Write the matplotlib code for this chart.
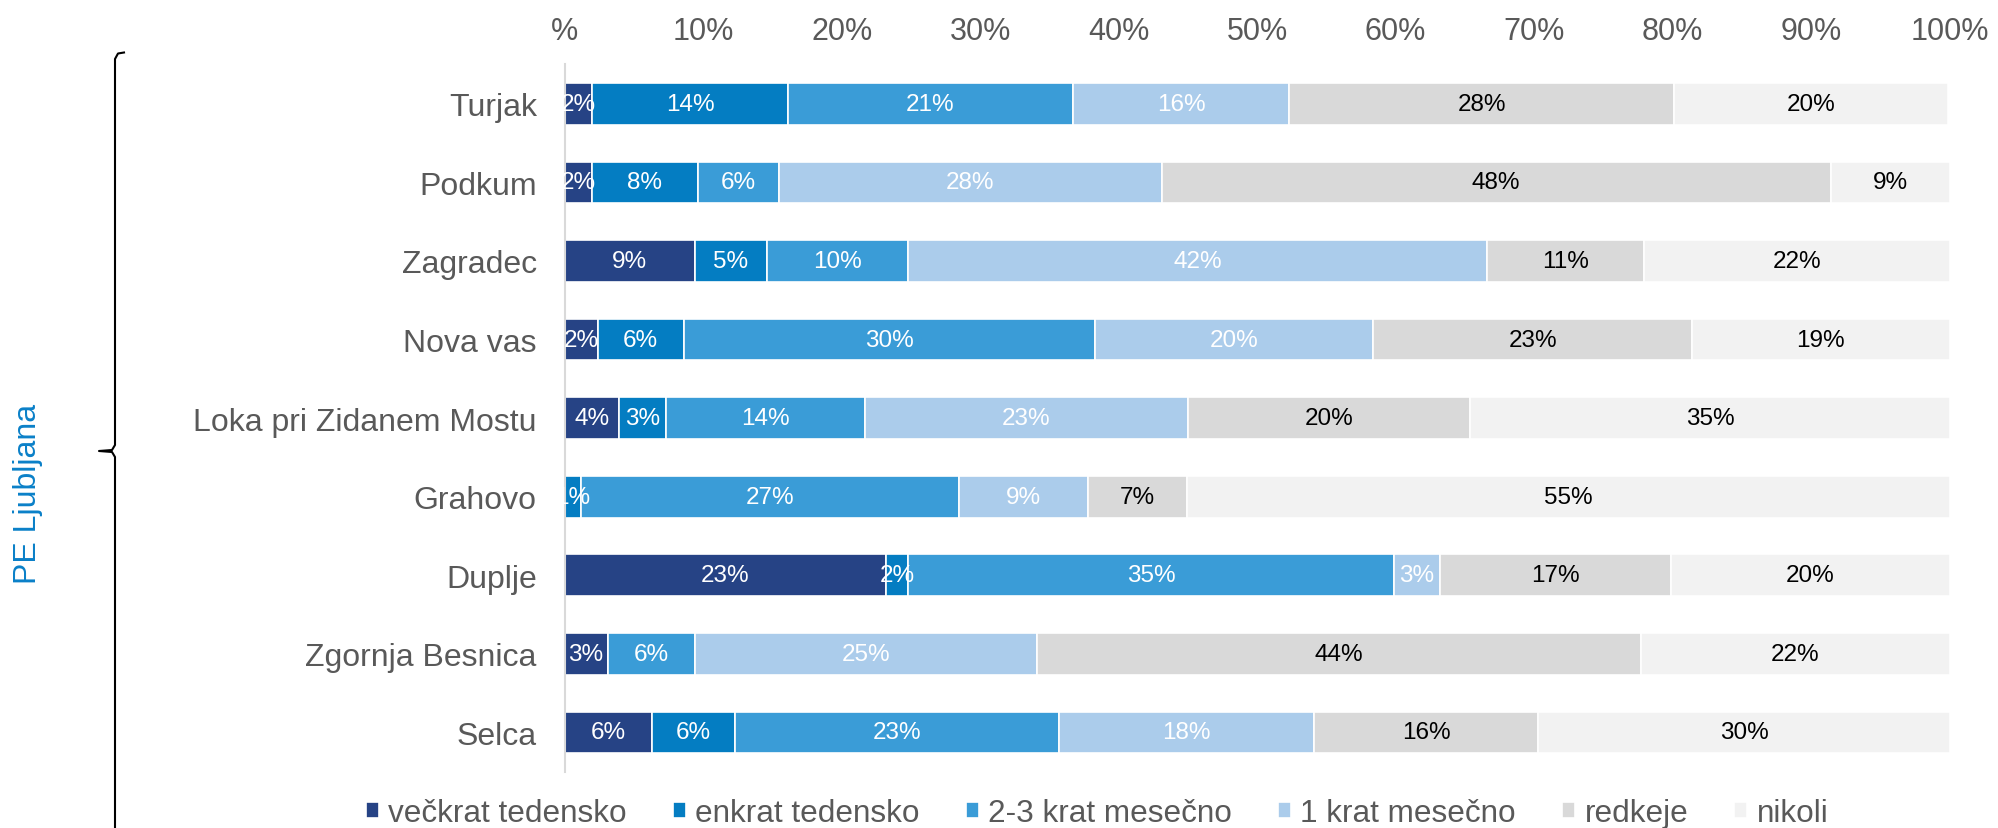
import matplotlib
matplotlib.use("Agg")
import matplotlib.pyplot as plt
from matplotlib.lines import Line2D
import numpy as np

plt.rcParams['font.family'] = ['Liberation Sans', 'DejaVu Sans']

# kraji od zgoraj navzdol
places = ["Turjak", "Podkum", "Zagradec", "Nova vas", "Loka pri Zidanem Mostu",
          "Grahovo", "Duplje", "Zgornja Besnica", "Selca"]
series = ["večkrat tedensko", "enkrat tedensko", "2-3 krat mesečno",
          "1 krat mesečno", "redkeje", "nikoli"]

# deleži v %, brani s slike
veckrat_tedensko = [2.0, 2.0, 9.4, 2.4, 3.9, 0.0, 23.2, 3.1, 6.3]
enkrat_tedensko  = [14.1, 7.6, 5.2, 6.2, 3.4, 1.2, 1.6, 0.0, 6.0]
krat_2_3_mesecno = [20.6, 5.9, 10.2, 29.7, 14.4, 27.3, 35.1, 6.3, 23.4]
krat_1_mesecno   = [15.6, 27.6, 41.8, 20.1, 23.3, 9.3, 3.3, 24.7, 18.4]
redkeje          = [27.8, 48.3, 11.3, 23.0, 20.4, 7.1, 16.7, 43.6, 16.2]
nikoli           = [19.8, 8.6, 22.1, 18.6, 34.6, 55.1, 20.1, 22.3, 29.7]

xticks = [0, 10, 20, 30, 40, 50, 60, 70, 80, 90, 100]
xticklabels = ["%", "10%", "20%", "30%", "40%", "50%", "60%", "70%", "80%", "90%", "100%"]

colors = ["#264385", "#047DC2", "#3A9CD7", "#ABCCEB", "#D9D9D9", "#F2F2F2"]
text_colors = ["white", "white", "white", "white", "black", "black"]

data = [veckrat_tedensko, enkrat_tedensko, krat_2_3_mesecno, krat_1_mesecno, redkeje, nikoli]

fig = plt.figure(figsize=(19.98, 8.29), dpi=100)
ax = fig.add_axes([0.2826, 0.0678, 0.6932, 0.8532])

y = np.arange(len(places))
left = np.zeros(len(places))
for vals, name, col, tcol in zip(data, series, colors, text_colors):
    vals = np.array(vals)
    ax.barh(y, vals, left=left, height=0.53, color=col, edgecolor="white",
            linewidth=1.2, label=name)
    for yi, v, l in zip(y, vals, left):
        if v > 0:
            ax.text(l + v / 2, yi, f"{v:.0f}%", ha="center", va="center",
                    color=tcol, fontsize=17.5)
    left += vals

ax.set_xlim(0, 100)
ax.set_ylim(len(places) - 0.5, -0.5)
ax.set_yticks(y)
ax.set_yticklabels(places, fontsize=23, color="#595959")
ax.set_xticks(xticks)
ax.set_xticklabels(xticklabels, fontsize=22, color="#595959")
ax.xaxis.tick_top()
ax.tick_params(axis="both", length=0)
ax.tick_params(axis="x", pad=13)
ax.tick_params(axis="y", pad=20)
for s in ["top", "right", "bottom"]:
    ax.spines[s].set_visible(False)
ax.spines["left"].set_color("#D9D9D9")
ax.spines["left"].set_linewidth(1.5)

leg = fig.legend(loc="center", bbox_to_anchor=(1097 / 1998, 1 - 814 / 829), ncol=6,
                 frameon=False, fontsize=22.7, handlelength=0.42, handleheight=0.42,
                 handletextpad=0.3, columnspacing=1.45)
for t in leg.get_texts():
    t.set_color("#595959")

# oklepaj s skupino
W, H = 1998, 829
pts_x = [124, 118, 115, 115, 112, 99, 112, 115, 115]
pts_y = [53.5, 54.5, 60, 446, 451, 452, 453, 458, 840]
fig.add_artist(Line2D([p / W for p in pts_x], [1 - p / H for p in pts_y],
                      color="black", linewidth=1.5, transform=fig.transFigure))
fig.text(28 / W, 1 - 494 / H, "PE Ljubljana", rotation=90, ha="center", va="center",
         fontsize=23, color="#0A80C8")

fig.savefig("out.png", dpi=100)
